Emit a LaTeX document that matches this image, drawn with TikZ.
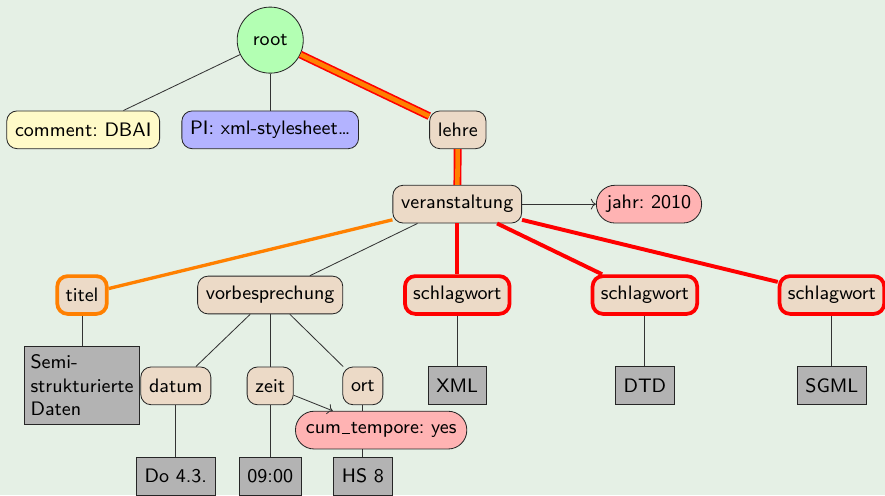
\documentclass[tikz,border=0pt]{standalone}
\usetikzlibrary{arrows.meta, positioning}
\definecolor{bggreen}{RGB}{229, 240, 229}
\definecolor{elemtan}{RGB}{236, 218, 199}
\definecolor{rootgreen}{RGB}{179, 255, 179}
\definecolor{attrpink}{RGB}{255, 179, 179}
\definecolor{cmtyellow}{RGB}{255, 250, 200}
\definecolor{pililac}{RGB}{179, 179, 255}
\definecolor{leafgray}{RGB}{179, 179, 179}
\newcommand{\lowbar}{\kern0.04em\rule[-0.2pt]{0.42em}{0.45pt}\kern0.04em}
\frenchspacing

\begin{document}
\begin{tikzpicture}[
  every node/.style={font=\fontsize{9.4pt}{11.5pt}\selectfont\sffamily},
  elem/.style={rectangle, draw=black!85, fill=elemtan, rounded corners=5pt,
               minimum height=0.64cm, inner xsep=4pt},
  attr/.style={rectangle, draw=black!85, fill=attrpink, rounded corners=9pt,
               minimum height=0.64cm, inner xsep=5pt},
  leaf/.style={rectangle, draw=black!85, fill=leafgray,
               minimum height=0.64cm, inner xsep=4pt},
  hlnode/.style={line width=1.8pt},
  link/.style={draw=black!80, thin},
  pathdbl/.style={draw=red, line width=0.8pt, double=orange, double distance=2.2pt},
  pathred/.style={draw=red, line width=1.9pt},
  pathorange/.style={draw=orange, line width=1.6pt}
]

% Slide background
\fill[bggreen] (0,0) rectangle (15,-8.39);
\useasboundingbox (0,0) rectangle (15,-8.39);

% Top level
\node[circle, draw=black!85, fill=rootgreen, minimum size=1.12cm] (root) at (4.58,-0.68) {root};
\node[elem, fill=cmtyellow] (cmt) at (1.41,-2.20) {comment: DBAI};
\node[elem, fill=pililac] (pi) at (4.58,-2.20) {PI: xml-stylesheet\dots};
\node[elem] (lehre) at (7.76,-2.20) {lehre};

% veranstaltung and its attribute
\node[elem] (va) at (7.75,-3.46) {veranstaltung};
\node[attr] (jahr) at (11.0,-3.46) {jahr: 2010};

% Children of veranstaltung
\node[elem, hlnode, draw=orange] (titel) at (1.39,-5.0) {titel};
\node[elem] (vb) at (4.58,-5.0) {vorbesprechung};
\node[elem, hlnode, draw=red] (sw1) at (7.75,-5.0) {schlagwort};
\node[elem, hlnode, draw=red] (sw2) at (10.93,-5.0) {schlagwort};
\node[elem, hlnode, draw=red] (sw3) at (14.10,-5.0) {schlagwort};

% Text leaves and vorbesprechung children
\node[leaf, align=left, inner xsep=3pt, inner ysep=4pt] (semi) at (1.39,-6.53) {Semi-\\strukturierte\\Daten};
\node[elem] (datum) at (2.98,-6.54) {datum};
\node[elem] (zeit) at (4.58,-6.54) {zeit};
\node[elem] (ort) at (6.15,-6.54) {ort};
\node[leaf] (xml) at (7.75,-6.53) {XML};
\node[leaf] (dtd) at (10.93,-6.53) {DTD};
\node[leaf] (sgml) at (14.10,-6.53) {SGML};
\node[leaf] (do) at (2.98,-8.07) {Do 4.3.};
\node[leaf] (uhr) at (4.58,-8.07) {09:00};
\node[leaf] (hs) at (6.15,-8.07) {HS 8};

% Plain tree edges
\foreach \a/\b in {root/cmt, root/pi, va/vb, titel/semi, vb/datum, vb/zeit, vb/ort,
                   sw1/xml, sw2/dtd, sw3/sgml, datum/do, zeit/uhr, ort/hs}{
  \draw[link] (\a) -- (\b);
}

% Highlighted path
\draw[pathdbl] (root) -- (lehre);
\draw[pathdbl] (lehre) -- (va);
\draw[pathorange] (va) -- (titel);
\foreach \s in {sw1,sw2,sw3}{
  \draw[pathred] (va) -- (\s);
}

% Attributes
\draw[link, ->] (va) -- (jahr);
\node[attr] (cum) at (6.46,-7.29) {cum\lowbar tempore: yes};
\draw[link, ->] (zeit) -- (cum);

\end{tikzpicture}
\end{document}
